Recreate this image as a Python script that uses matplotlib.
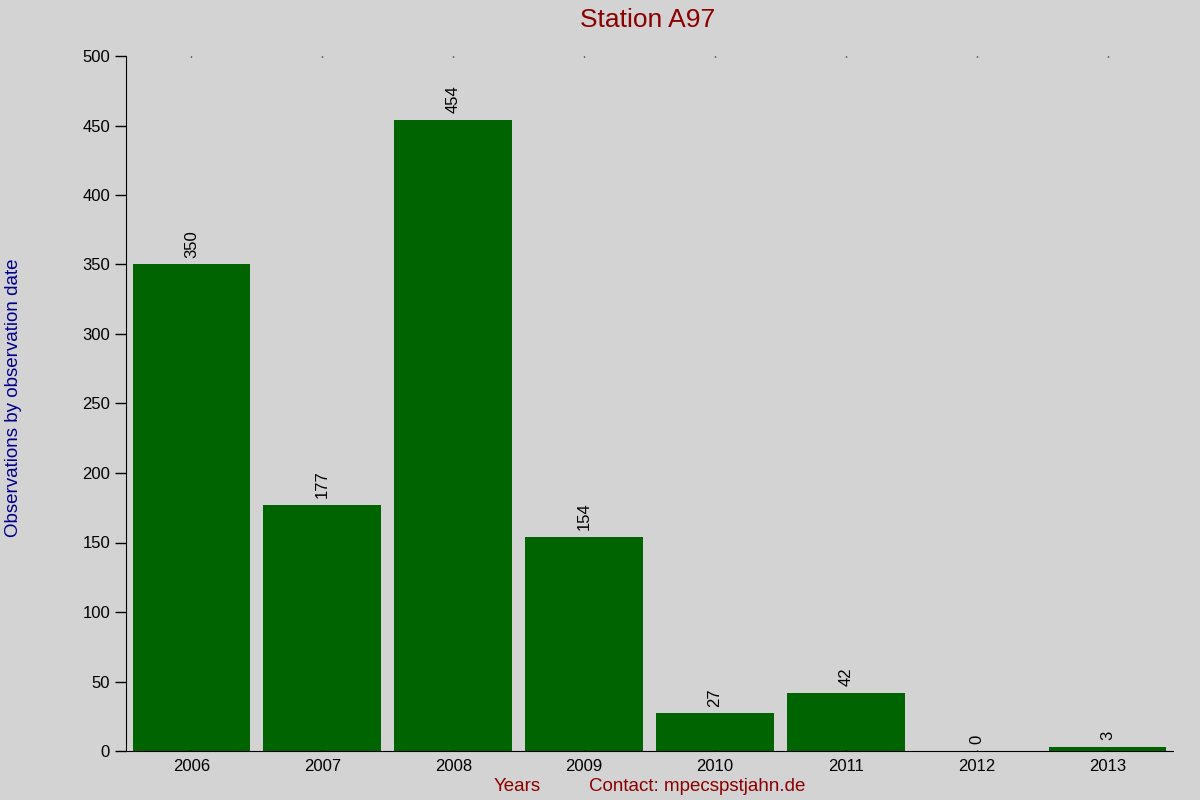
import matplotlib
matplotlib.use('Agg')
import matplotlib.pyplot as plt
import numpy as np

plt.rcParams['font.family'] = ['Liberation Sans', 'DejaVu Sans']

# data
years = ['2006', '2007', '2008', '2009', '2010', '2011', '2012', '2013']
counts = [350, 177, 454, 154, 27, 42, 0, 3]

bg = '#d3d3d3'
fig = plt.figure(figsize=(12, 8), dpi=100, facecolor=bg)
ax = fig.add_axes([0.105, 0.06125, 0.8725, 0.86875], facecolor=bg)

x = np.arange(len(years))
ax.bar(x, counts, width=0.9, color='#006400')

for xi, c in zip(x, counts):
    ax.text(xi, c + 5, str(c), rotation=90, ha='center', va='bottom', fontsize=12)

ax.set_xlim(-0.5, len(years) - 0.5)
ax.set_ylim(0, 500)
ax.set_yticks(np.arange(0, 501, 50))
ax.set_xticks(x)
ax.set_xticklabels(years)
ax.tick_params(axis='y', length=8, width=1, labelsize=12, direction='out')
ax.tick_params(axis='x', length=0, labelsize=12, pad=6)
ax.tick_params(axis='x', top=True, direction='in', length=1, width=1)

for s in ['top', 'right']:
    ax.spines[s].set_visible(False)

fig.text(0.54, 0.975, 'Station A97', ha='center', va='center',
         fontsize=19, color='#8b0000')
fig.text(0.0115, 0.503, 'Observations by observation date', rotation=90,
         ha='center', va='center', fontsize=13.5, color='#00008b')
fig.text(0.431, 0.017, 'Years', ha='center', va='center', fontsize=13.5, color='#8b0000')
fig.text(0.581, 0.017, 'Contact: mpecspstjahn.de', ha='center', va='center',
         fontsize=13.5, color='#8b0000')

fig.savefig('out.png', dpi=100, facecolor=bg)
